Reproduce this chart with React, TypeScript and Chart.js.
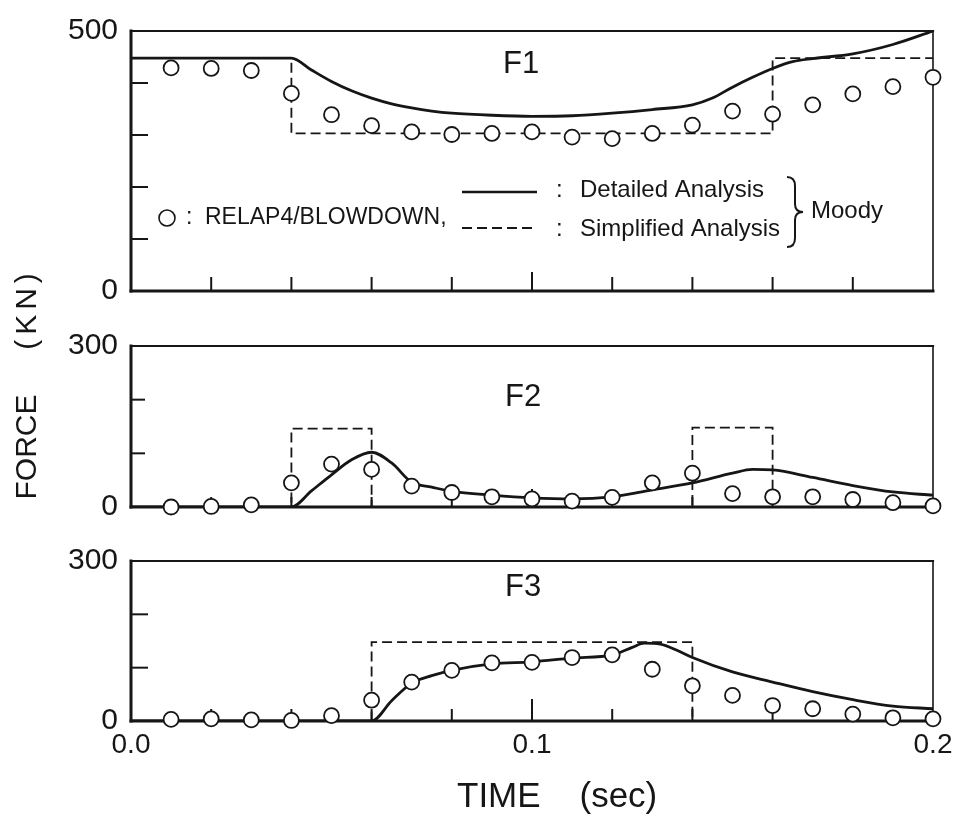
import React, { useEffect, useRef } from 'react';
import { Chart, registerables } from 'chart.js';

Chart.register(...registerables);

const INK = '#161616';
const FONT = '"Liberation Sans", Arial, sans-serif';

// ---------- data (time in sec, force in kN) ----------
const relapTimes = [0.01, 0.02, 0.03, 0.04, 0.05, 0.06, 0.07, 0.08, 0.09, 0.1, 0.11, 0.12, 0.13, 0.14, 0.15, 0.16, 0.17, 0.18, 0.19, 0.2];

// F1
const f1Relap = [429, 428, 424, 380, 339, 318, 306, 301, 303, 306, 296, 293, 303, 319, 346, 340, 358, 379, 393, 411];
const f1DetailedTimes = [0, 0.04, 0.045, 0.05, 0.055, 0.06, 0.065, 0.07, 0.075, 0.08, 0.09, 0.1, 0.11, 0.12, 0.13, 0.14, 0.145, 0.15, 0.155, 0.16, 0.165, 0.17, 0.18, 0.19, 0.2];
const f1Detailed = [448, 448, 425, 403, 385, 371, 360, 352, 346, 342, 338, 336, 337, 342, 349, 358, 371, 392, 411, 428, 441, 447, 456, 474, 500];
const f1SimplifiedTimes = [0, 0.04, 0.04, 0.16, 0.16, 0.2];
const f1Simplified = [448, 448, 303, 303, 448, 448];

// F2
const f2Relap = [0, 1, 4, 45, 80, 70, 39, 27, 19, 15, 11, 18, 45, 63, 25, 19, 19, 14, 8, 2];
const f2DetailedTimes = [0, 0.04, 0.045, 0.05, 0.055, 0.06, 0.065, 0.07, 0.075, 0.08, 0.09, 0.1, 0.11, 0.12, 0.13, 0.14, 0.15, 0.155, 0.16, 0.17, 0.18, 0.19, 0.2];
const f2Detailed = [0, 0, 30, 60, 88, 102, 82, 46, 37, 29, 22, 17, 15, 19, 32, 45, 63, 70, 69, 55, 40, 28, 22];
const f2SimplifiedTimes = [0, 0.04, 0.04, 0.06, 0.06, 0.14, 0.14, 0.16, 0.16, 0.2];
const f2Simplified = [0, 0, 146, 146, 0, 0, 148, 148, 0, 0];

// F3
const f3Relap = [3, 4, 2, 1, 10, 39, 73, 95, 109, 110, 119, 124, 97, 66, 48, 29, 23, 13, 6, 4];
const f3DetailedTimes = [0, 0.06, 0.065, 0.07, 0.075, 0.08, 0.09, 0.1, 0.11, 0.12, 0.125, 0.128, 0.132, 0.136, 0.14, 0.15, 0.16, 0.17, 0.18, 0.19, 0.2];
const f3Detailed = [0, 0, 38, 71, 85, 95, 107, 111, 118, 124, 138, 146, 144, 133, 119, 92, 73, 55, 40, 28, 23];
const f3SimplifiedTimes = [0, 0.06, 0.06, 0.14, 0.14, 0.2];
const f3Simplified = [0, 0, 148, 148, 0, 0];

// ticks
const xTickValues = [0, 0.1, 0.2];
const xTickLabels = ['0.0', '0.1', '0.2'];
const xMinorTicks = [0.02, 0.04, 0.06, 0.08, 0.12, 0.14, 0.16, 0.18];
const xMajorTicks = [0.1];
const f1YLabelValues = [0, 500];
const f1YMinorTicks = [100, 200, 300, 400];
const f23YLabelValues = [0, 300];
const f23YMinorTicks = [100, 200];

const zip = (xs: number[], ys: number[]) => xs.map((x, i) => ({ x, y: ys[i] }));

function seg(ctx: CanvasRenderingContext2D, x1: number, y1: number, x2: number, y2: number, w: number) {
  ctx.lineWidth = w;
  ctx.beginPath();
  ctx.moveTo(x1, y1);
  ctx.lineTo(x2, y2);
  ctx.stroke();
}

function drawLegend(ctx: CanvasRenderingContext2D) {
  ctx.save();
  ctx.strokeStyle = INK;
  ctx.fillStyle = INK;
  ctx.lineWidth = 1.6;
  ctx.beginPath();
  ctx.arc(167, 218, 8, 0, Math.PI * 2);
  ctx.stroke();
  ctx.textBaseline = 'middle';
  ctx.textAlign = 'left';
  ctx.font = `23px ${FONT}`;
  ctx.fillText(':', 186, 218);
  ctx.fillText('RELAP4/BLOWDOWN,', 205, 218);
  seg(ctx, 462, 192, 537, 192, 2.5);
  ctx.setLineDash([10, 5]);
  seg(ctx, 462, 228, 537, 228, 1.8);
  ctx.setLineDash([]);
  ctx.font = `24px ${FONT}`;
  ctx.fillText(':', 556, 190);
  ctx.fillText('Detailed Analysis', 580, 190);
  ctx.fillText(':', 556, 229);
  ctx.fillText('Simplified Analysis', 580, 229);
  // brace
  ctx.lineWidth = 2;
  ctx.beginPath();
  ctx.moveTo(787, 177);
  ctx.quadraticCurveTo(795, 177, 795, 186);
  ctx.lineTo(795, 204);
  ctx.quadraticCurveTo(795, 212, 803, 212);
  ctx.quadraticCurveTo(795, 212, 795, 220);
  ctx.lineTo(795, 238);
  ctx.quadraticCurveTo(795, 247, 787, 247);
  ctx.stroke();
  ctx.font = `24px ${FONT}`;
  ctx.fillText('Moody', 811, 211);
  ctx.restore();
}

function drawYTitle(ctx: CanvasRenderingContext2D) {
  ctx.save();
  ctx.fillStyle = INK;
  ctx.font = `30px ${FONT}`;
  ctx.textAlign = 'center';
  ctx.textBaseline = 'middle';
  ctx.translate(28, 447);
  ctx.rotate(-Math.PI / 2);
  ctx.fillText('FORCE', 0, 0);
  ctx.restore();
  ctx.save();
  ctx.fillStyle = INK;
  ctx.font = `30px ${FONT}`;
  ctx.textAlign = 'center';
  ctx.textBaseline = 'middle';
  (ctx as any).letterSpacing = '5px';
  ctx.translate(28, 311);
  ctx.rotate(-Math.PI / 2);
  ctx.fillText('(KN)', 2, 0);
  ctx.restore();
}

function drawXTitle(ctx: CanvasRenderingContext2D) {
  ctx.save();
  ctx.fillStyle = INK;
  ctx.font = `35px ${FONT}`;
  ctx.textAlign = 'left';
  ctx.textBaseline = 'middle';
  ctx.fillText('TIME    (sec)', 457, 797);
  ctx.restore();
}

type PanelCfg = {
  name: string;
  nameX: number;
  nameY: number;
  yMax: number;
  yLabels: number[];
  yMinor: number[];
  relap: number[];
  detT: number[];
  det: number[];
  simT: number[];
  sim: number[];
  padTop: number;
  padBottom: number;
  showX: boolean;
  yTickLen: number;
  xTickLen: number;
  xMajorLen: number;
  extra?: (ctx: CanvasRenderingContext2D) => void;
};

const panels: PanelCfg[] = [
  {
    name: 'F1', nameX: 503, nameY: 64, yMax: 500, yLabels: f1YLabelValues, yMinor: f1YMinorTicks,
    relap: f1Relap, detT: f1DetailedTimes, det: f1Detailed, simT: f1SimplifiedTimes, sim: f1Simplified,
    padTop: 21, padBottom: 524, showX: false, yTickLen: 17, xTickLen: 14, xMajorLen: 19, extra: drawLegend,
  },
  {
    name: 'F2', nameX: 505, nameY: 397, yMax: 300, yLabels: f23YLabelValues, yMinor: f23YMinorTicks,
    relap: f2Relap, detT: f2DetailedTimes, det: f2Detailed, simT: f2SimplifiedTimes, sim: f2Simplified,
    padTop: 346, padBottom: 308, showX: false, yTickLen: 14, xTickLen: 10, xMajorLen: 18, extra: drawYTitle,
  },
  {
    name: 'F3', nameX: 505, nameY: 587, yMax: 300, yLabels: f23YLabelValues, yMinor: f23YMinorTicks,
    relap: f3Relap, detT: f3DetailedTimes, det: f3Detailed, simT: f3SimplifiedTimes, sim: f3Simplified,
    padTop: 561, padBottom: 0, showX: true, yTickLen: 17, xTickLen: 12, xMajorLen: 22, extra: drawXTitle,
  },
];

function makeDecor(cfg: PanelCfg) {
  return {
    id: 'panelDecor',
    beforeDatasetsDraw(chart: any) {
      const { ctx, chartArea: a, scales } = chart;
      const xs = scales.x;
      const ys = scales.y;
      ctx.save();
      ctx.strokeStyle = INK;
      ctx.lineCap = 'square';
      // frame
      seg(ctx, a.left, a.top, a.left, a.bottom, 3);
      seg(ctx, a.left, a.bottom, a.right, a.bottom, 3);
      seg(ctx, a.left, a.top, a.right, a.top, 2.2);
      seg(ctx, a.right, a.top, a.right, a.bottom, 1.6);
      ctx.lineCap = 'butt';
      // inner ticks
      cfg.yMinor.forEach((v) => {
        const py = ys.getPixelForValue(v);
        seg(ctx, a.left, py, a.left + cfg.yTickLen, py, 2);
      });
      xMinorTicks.forEach((v) => {
        const px = xs.getPixelForValue(v);
        seg(ctx, px, a.bottom, px, a.bottom - cfg.xTickLen, 2);
      });
      xMajorTicks.forEach((v) => {
        const px = xs.getPixelForValue(v);
        seg(ctx, px, a.bottom, px, a.bottom - cfg.xMajorLen, 2);
      });
      // panel name
      ctx.fillStyle = INK;
      ctx.font = `31px ${FONT}`;
      ctx.textAlign = 'left';
      ctx.textBaseline = 'middle';
      ctx.fillText(cfg.name, cfg.nameX, cfg.nameY);
      ctx.restore();
      if (cfg.extra) cfg.extra(ctx);
    },
  };
}

function Panel({ cfg }: { cfg: PanelCfg }) {
  const ref = useRef<HTMLCanvasElement | null>(null);
  useEffect(() => {
    if (!ref.current) return;
    const chart = new Chart(ref.current, {
      type: 'line',
      data: {
        datasets: [
          {
            label: 'RELAP4/BLOWDOWN',
            data: zip(relapTimes, cfg.relap),
            showLine: false,
            pointRadius: 7.5,
            pointHoverRadius: 7.5,
            pointBorderWidth: 1.8,
            pointBackgroundColor: '#ffffff',
            pointBorderColor: INK,
            borderColor: INK,
            clip: false,
          } as any,
          {
            label: 'Detailed Analysis',
            data: zip(cfg.detT, cfg.det),
            borderColor: INK,
            borderWidth: 2.8,
            pointRadius: 0,
            cubicInterpolationMode: 'monotone',
            fill: false,
          },
          {
            label: 'Simplified Analysis',
            data: zip(cfg.simT, cfg.sim),
            borderColor: INK,
            borderWidth: 1.8,
            borderDash: [10, 5],
            pointRadius: 0,
            tension: 0,
            fill: false,
          },
        ],
      },
      options: {
        responsive: false,
        animation: false,
        events: [],
        layout: { padding: { left: 0, right: 22, top: cfg.padTop, bottom: cfg.padBottom } },
        plugins: { legend: { display: false }, tooltip: { enabled: false }, title: { display: false } },
        scales: {
          x: {
            type: 'linear',
            min: 0,
            max: 0.2,
            display: cfg.showX,
            grid: { display: false, drawTicks: false },
            border: { display: false },
            afterBuildTicks: (s: any) => {
              s.ticks = xTickValues.map((v) => ({ value: v }));
            },
            afterFit: (s: any) => {
              if (cfg.showX) s.height = 94;
              s.paddingLeft = 0;
              s.paddingRight = 0;
            },
            ticks: {
              callback: (_v: any, i: number) => xTickLabels[i],
              font: { family: FONT, size: 28 },
              color: INK,
              padding: 7,
              maxRotation: 0,
              autoSkip: false,
            },
          },
          y: {
            type: 'linear',
            min: 0,
            max: cfg.yMax,
            grid: { display: false, drawTicks: false },
            border: { display: false },
            afterBuildTicks: (s: any) => {
              s.ticks = cfg.yLabels.map((v) => ({ value: v }));
            },
            afterFit: (s: any) => {
              s.width = 131;
            },
            ticks: {
              callback: (v: any) => String(v),
              font: { family: FONT, size: 30 },
              color: INK,
              padding: 13,
              autoSkip: false,
            },
          },
        },
      } as any,
      plugins: [makeDecor(cfg) as any],
    });
    return () => chart.destroy();
  }, [cfg]);
  return (
    <canvas
      ref={ref}
      width={955}
      height={815}
      style={{ position: 'absolute', left: 0, top: 0, width: 955, height: 815 }}
    />
  );
}

export default function App() {
  return (
    <div style={{ position: 'absolute', left: 0, top: 0, width: 955, height: 815, background: '#ffffff', overflow: 'hidden' }}>
      {panels.map((p) => (
        <Panel key={p.name} cfg={p} />
      ))}
    </div>
  );
}
